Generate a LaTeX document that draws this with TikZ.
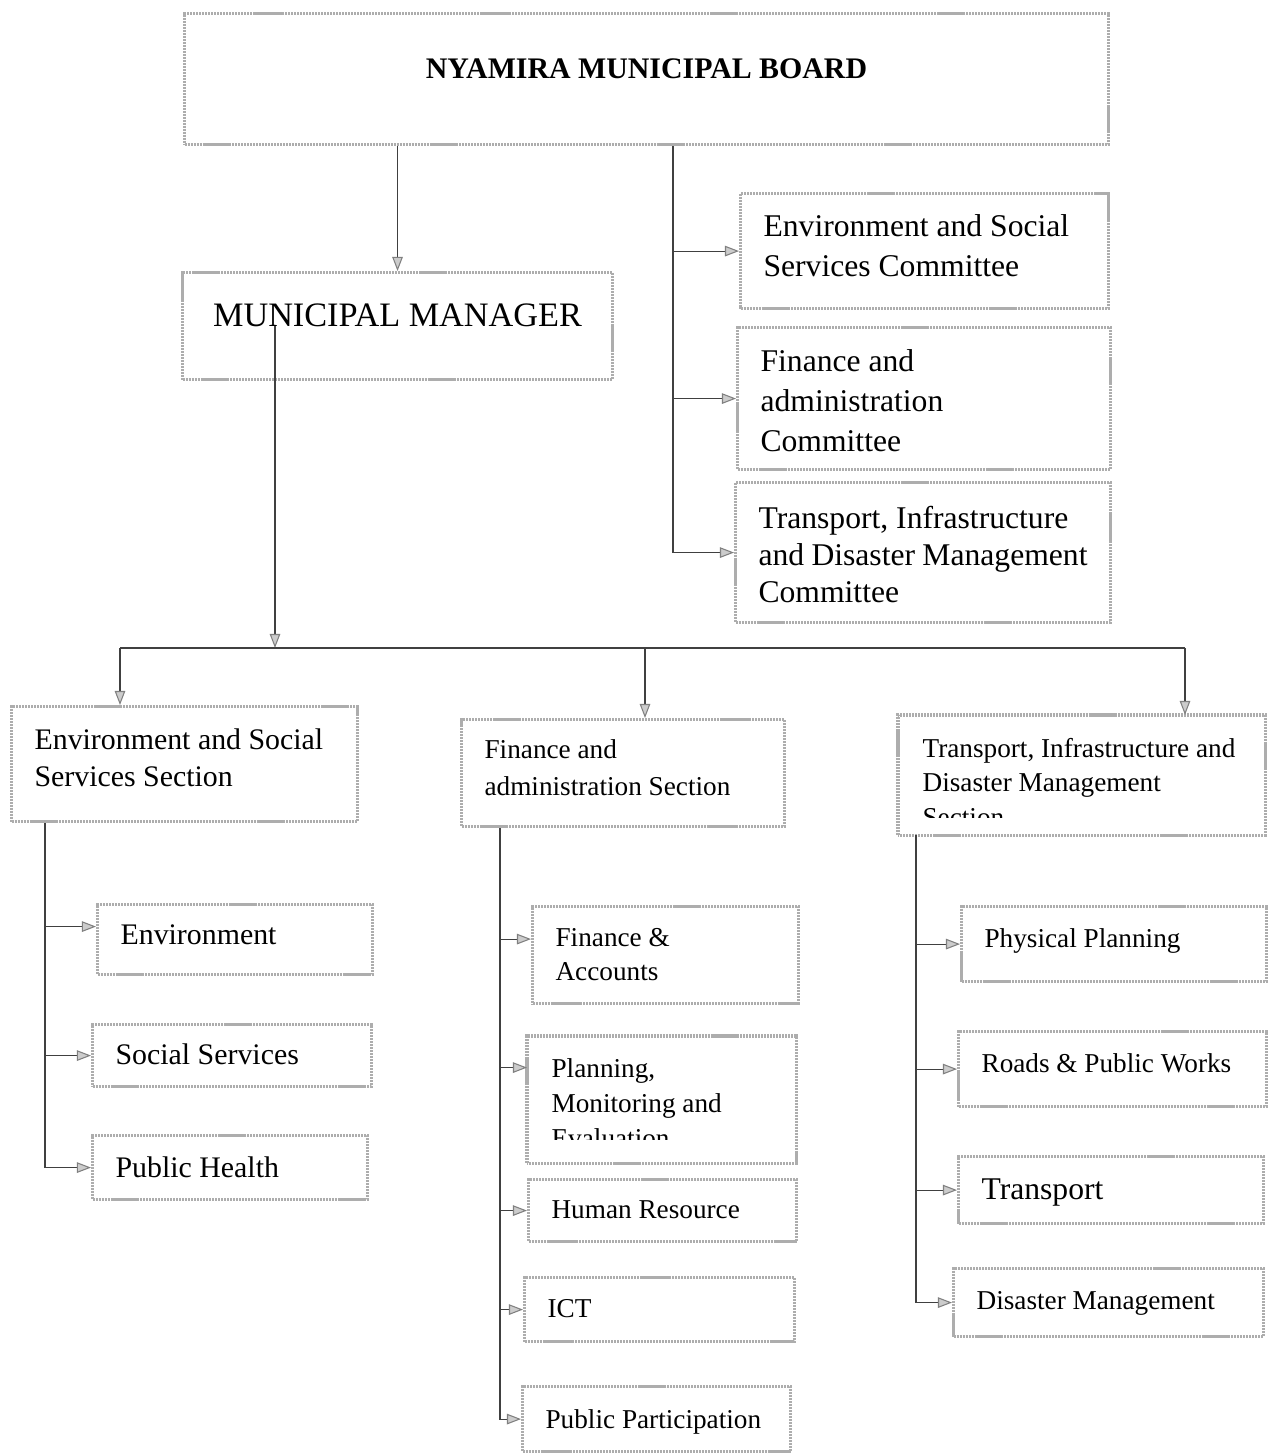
\documentclass[tikz,border=0pt]{standalone}
\usepackage{fontspec}
\setmainfont{Liberation Serif}
\usetikzlibrary{arrows.meta}

\newcommand{\fsz}[2]{\fontsize{#1}{#2}\selectfont}

\begin{document}
\begin{tikzpicture}[x=0.02cm, y=-0.02cm,
    boxline/.style={draw=black!32, line width=1.8pt, dash pattern=on 1.2pt off 0.5pt},
    box/.style={boxline, anchor=north west, inner xsep=0.46cm, inner ysep=0pt,
        align=flush left, font=\fsz{15.5}{20}},
    conn/.style={draw=black!75, line width=0.6pt,
        -{Triangle[length=8pt, width=6pt, color=black!50, fill=black!20]}},
    link/.style={draw=black!75, line width=0.6pt}]
    \useasboundingbox (0,0) rectangle (1269,1453);

    % board and manager
    \node[box, align=flush center, font=\bfseries\fsz{17}{20}, text width=17.56cm, text height=1.30cm, text depth=1.32cm] (board) at (183,12) {NYAMIRA MUNICIPAL BOARD};
    \node[box, align=flush center, font=\fsz{19.5}{23}, text width=7.68cm, text height=1.08cm, text depth=1.06cm] (mgr) at (181,271) {MUNICIPAL MANAGER};

    % committees
    \node[box, font=\fsz{18}{22.7}, text width=6.44cm, text height=0.86cm, text depth=1.44cm] (envc) at (739,192) {Environment and Social\\ Services Committee};
    \node[box, font=\fsz{18}{22.7}, text width=6.54cm, text height=0.88cm, text depth=1.96cm] (finc) at (736,326) {Finance and\\ administration\\ Committee};
    \node[box, font=\fsz{18}{21}, text width=6.58cm, text height=0.92cm, text depth=1.88cm] (trc) at (734,481) {Transport, Infrastructure\\ and Disaster Management\\ Committee};

    % sections
    \node[box, font=\fsz{17}{21}, text width=6.00cm, text height=0.86cm, text depth=1.44cm] (envs) at (10,705) {Environment and Social\\ Services Section};
    \node[box, font=\fsz{15.5}{21}, text width=5.54cm, text height=0.78cm, text depth=1.36cm] (fins) at (460,718) {Finance and\\ administration Section};
    \begin{scope}
        \clip (898,715) rectangle (1262,817);
        \node[box, draw=none, font=\fsz{15.5}{19.5}, text width=6.36cm, text height=0.82cm, text depth=1.52cm] (trs) at (898,715) {Transport, Infrastructure and\\ Disaster Management\\ Section};
    \end{scope}
    \draw[boxline] (trs.south west) rectangle (trs.north east);

    % units under environment and social services
    \node[box, font=\fsz{17}{21}, text width=4.58cm, text height=0.80cm, text depth=0.60cm] (env) at (96,903) {Environment};
    \node[box, font=\fsz{17}{21}, text width=4.66cm, text height=0.80cm, text depth=0.44cm] (soc) at (91,1023) {Social Services};
    \node[box, font=\fsz{17}{21}, text width=4.58cm, text height=0.84cm, text depth=0.44cm] (ph) at (91,1134) {Public Health};

    % units under finance and administration
    \node[box, font=\fsz{15.5}{19.5}, text width=4.40cm, text height=0.80cm, text depth=1.14cm] (fa) at (531,905) {Finance \&\\ Accounts};
    \begin{scope}
        \clip (527,1036) rectangle (793,1139);
        \node[box, draw=none, font=\fsz{15.5}{19.8}, text width=4.40cm, text height=0.80cm, text depth=1.68cm] (pme) at (527,1036) {Planning,\\ Monitoring and\\ Evaluation};
    \end{scope}
    \draw[boxline] (pme.south west) rectangle (pme.north east);
    \node[box, text width=4.44cm, text height=0.78cm, text depth=0.46cm] (hr) at (527,1178) {Human Resource};
    \node[box, text width=4.48cm, text height=0.80cm, text depth=0.48cm] (ict) at (523,1276) {ICT};
    \node[box, text width=4.44cm, text height=0.84cm, text depth=0.46cm] (pp) at (521,1385) {Public Participation};

    % units under transport and infrastructure
    \node[box, text width=5.18cm, text height=0.82cm, text depth=0.68cm] (phy) at (960,905) {Physical Planning};
    \node[box, text width=5.24cm, text height=0.82cm, text depth=0.68cm] (rpw) at (957,1030) {Roads \& Public Works};
    \node[box, font=\fsz{18}{22}, text width=5.18cm, text height=0.86cm, text depth=0.48cm] (trn) at (957,1155) {Transport};
    \node[box, text width=5.28cm, text height=0.82cm, text depth=0.54cm] (dm) at (952,1267) {Disaster Management};

    % bus points
    \coordinate (cbus) at (673,0);
    \coordinate (bus) at (275,648);
    \coordinate (bl) at (120,648);
    \coordinate (bm) at (645,648);
    \coordinate (br) at (1185,648);
    \coordinate (lt) at (45,0);
    \coordinate (mt) at (500,0);
    \coordinate (rt) at (916,0);

    \draw[conn] (board.south -| mgr.north) -- (mgr.north);
    \foreach \c in {envc,finc,trc}
        \draw[conn] (board.south -| cbus) |- (\c.west);

    \draw[conn] (mgr.center -| bus) -- (bus);
    \draw[link] (bl) -- (br);
    \draw[conn] (bl) -- (bl |- envs.north);
    \draw[conn] (bm) -- (bm |- fins.north);
    \draw[conn] (br) -- (br |- trs.north);

    \draw[conn] (envs.south -| lt) |- ([yshift=0.26cm]env.west);
    \foreach \s in {soc,ph}
        \draw[conn] (envs.south -| lt) |- (\s.west);

    \draw[conn] (fins.south -| mt) |- ([yshift=0.32cm]fa.west);
    \draw[conn] (fins.south -| mt) |- ([yshift=0.64cm]pme.west);
    \foreach \s in {hr,ict,pp}
        \draw[conn] (fins.south -| mt) |- (\s.west);

    \foreach \s in {phy,rpw,trn,dm}
        \draw[conn] (trs.south -| rt) |- (\s.west);
\end{tikzpicture}
\end{document}
